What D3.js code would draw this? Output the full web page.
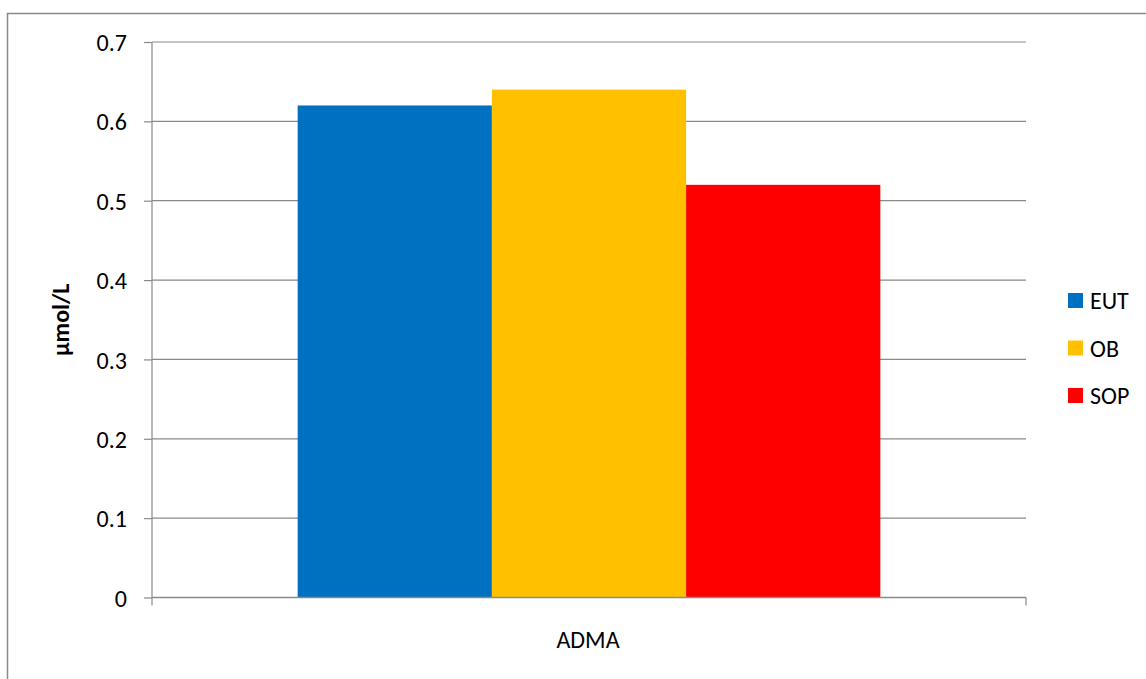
<!DOCTYPE html>
<html><head><meta charset="utf-8">
<script src="https://cdn.jsdelivr.net/npm/d3@7"></script>
<style>
html,body{margin:0;padding:0;background:#fff;}
text{font-family:Carlito,Calibri,Lato,"Open Sans",sans-serif;fill:#000;}
</style></head>
<body>
<svg id="chart" width="1146" height="679"></svg>
<script>
const categories = ["ADMA"];
const series = ["EUT", "OB", "SOP"];
const values = { EUT: [0.62], OB: [0.64], SOP: [0.52] };
const colors = ["#0070C0", "#FFC000", "#FF0000"];
const yTicks = [0, 0.1, 0.2, 0.3, 0.4, 0.5, 0.6, 0.7];
const yTitle = "μmol/L";

(function () {
const svg = d3.select("#chart");
const gridColor = "#898989";
const fs = "24px";

// outer chart border
svg.append("rect").attr("x", 7.5).attr("y", 13.5).attr("width", 1200).attr("height", 700)
  .attr("fill", "none").attr("stroke", gridColor).attr("stroke-width", 1.5);

const pL = 152, pR = 1026, pT = 42, pB = 597.5;
const y = d3.scaleLinear().domain([0, 0.7]).range([pB, pT]);
const x0 = d3.scaleBand().domain(categories).range([pL, pR]).padding(0);
const x1 = d3.scaleBand().domain(series).range([0, x0.bandwidth()]).paddingInner(0).paddingOuter(0.75);

// gridlines
svg.append("g").selectAll("line").data(yTicks.filter(d => d > 0)).join("line")
  .attr("x1", pL).attr("x2", pR).attr("y1", d => y(d)).attr("y2", d => y(d))
  .attr("stroke", gridColor).attr("stroke-width", 1.2);

// bars
const g = svg.append("g");
categories.forEach((c, ci) => {
  series.forEach((s, si) => {
    g.append("rect")
      .attr("x", x0(c) + x1(s))
      .attr("y", y(values[s][ci]))
      .attr("width", x1.bandwidth())
      .attr("height", y(0) - y(values[s][ci]))
      .attr("fill", colors[si]);
  });
});

// y axis
const yAxis = d3.axisLeft(y).tickValues(yTicks).tickSize(8).tickPadding(17).tickFormat(d => d === 0 ? "0" : d3.format(".1f")(d));
const ya = svg.append("g").attr("transform", `translate(${pL},0)`).call(yAxis);
ya.attr("font-family", null).attr("font-size", null);
ya.select(".domain").attr("stroke", gridColor).attr("stroke-width", 1.2).attr("d", `M0,${pT}V${pB}`);
ya.selectAll(".tick line").attr("stroke", gridColor).attr("stroke-width", 1.2);
ya.selectAll(".tick text").style("font-size", fs).attr("fill", "#000").attr("dy", "0.36em");

// x axis
const xa = svg.append("g").attr("transform", `translate(0,${pB})`);
xa.append("line").attr("x1", pL).attr("x2", pR).attr("stroke", gridColor).attr("stroke-width", 1.5);
[pL, pR].forEach(px => xa.append("line").attr("x1", px).attr("x2", px).attr("y1", 0).attr("y2", 8)
  .attr("stroke", gridColor).attr("stroke-width", 1.2));
xa.selectAll("text.cat").data(categories).join("text").attr("class", "cat")
  .attr("x", d => x0(d) + x0.bandwidth() / 2 - 1).attr("y", 50.5)
  .attr("text-anchor", "middle").style("font-size", fs).text(d => d);

// y title
svg.append("text").attr("transform", `translate(69,${(pT + pB) / 2}) rotate(-90)`)
  .attr("text-anchor", "middle").style("font-size", fs).style("font-weight", "bold").text(yTitle);

// legend
const lg = svg.append("g").attr("transform", "translate(1068,293)");
series.forEach((s, i) => {
  const row = lg.append("g").attr("transform", `translate(0,${i * 47.5})`);
  row.append("rect").attr("width", 15).attr("height", 15).attr("fill", colors[i]);
  row.append("text").attr("x", 22).attr("y", 7.5).attr("dy", "0.36em").style("font-size", fs).text(s);
});
})();
</script>
</body></html>
